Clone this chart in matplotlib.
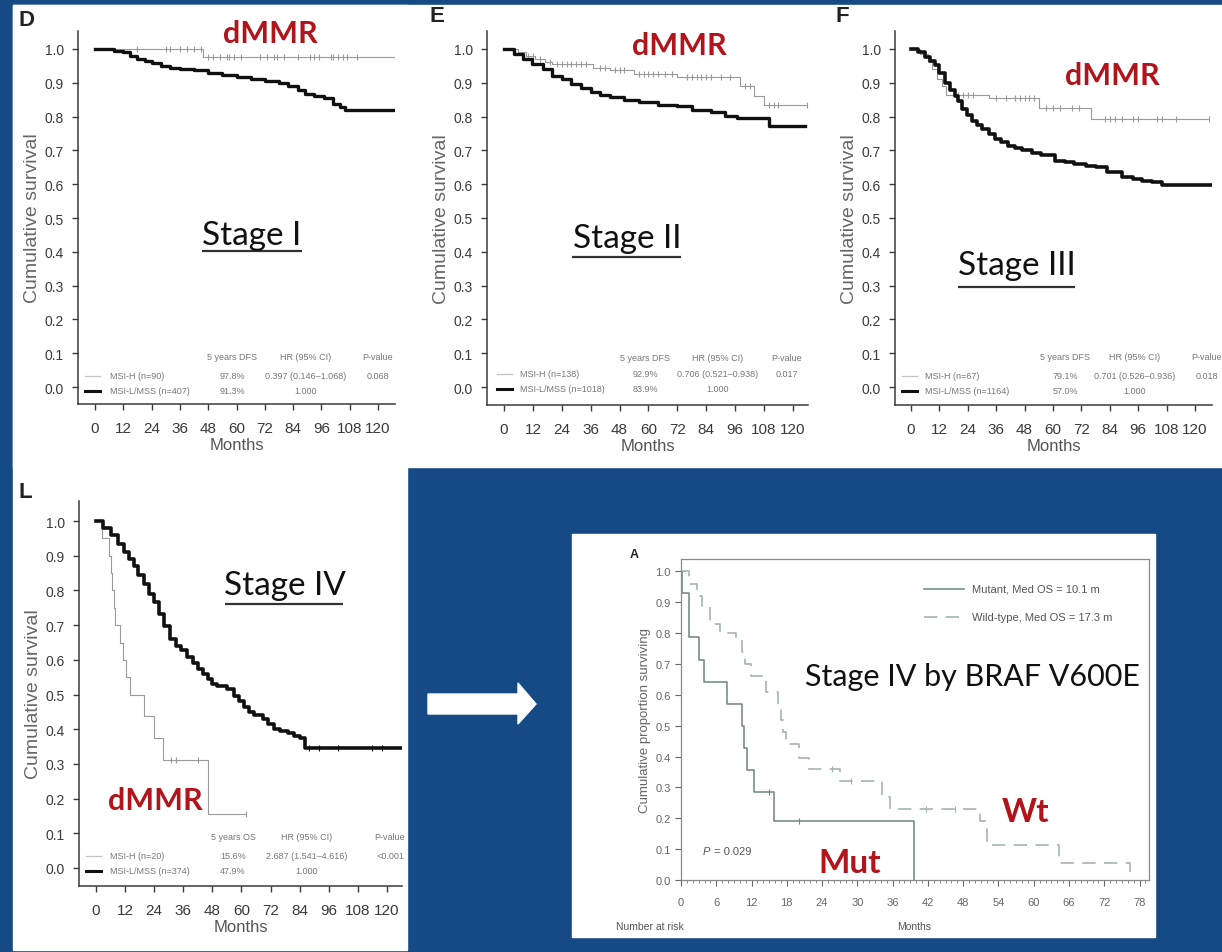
import numpy as np
import matplotlib.pyplot as plt
from matplotlib.patches import Rectangle, Polygon

plt.rcParams['font.family'] = ['Liberation Sans', 'DejaVu Sans']

W, H = 1222, 953
BLUE = '#164a85'
RED = '#b2141c'
INK = '#3a3a3a'
MSIH_GRAY = '#9a9a9a'
HEAD = ['Lato', 'DejaVu Sans']

month_ticks = [0, 12, 24, 36, 48, 60, 72, 84, 96, 108, 120]
surv_ticks = [0.0, 0.1, 0.2, 0.3, 0.4, 0.5, 0.6, 0.7, 0.8, 0.9, 1.0]

# Stage I
d_msih_t = [0, 46]
d_msih_s = [1.0, 0.975]
d_msih_end = 127
d_msih_cens = [18, 30, 32, 36, 39, 42, 45, 48, 50, 53, 56, 57, 59, 62, 70, 73, 76, 77,
               80, 86, 91, 93, 95, 100, 101, 103, 105, 107, 111]
d_mss_t = [0, 8, 12, 15, 18, 21, 24, 28, 32, 36, 42, 48, 54, 60, 66, 72, 78, 82, 86, 89,
           93, 97, 101, 104, 106]
d_mss_s = [1.0, 0.995, 0.99, 0.98, 0.97, 0.965, 0.958, 0.95, 0.945, 0.94, 0.937, 0.93, 0.922,
           0.917, 0.912, 0.906, 0.898, 0.89, 0.878, 0.867, 0.862, 0.855, 0.837, 0.828, 0.818]
d_mss_end = 127

# Stage II
e_msih_t = [0, 6, 9, 13, 17, 20, 37, 44, 54, 72, 98, 104, 108]
e_msih_s = [1.0, 0.99, 0.98, 0.97, 0.96, 0.955, 0.945, 0.938, 0.927, 0.916, 0.89, 0.862, 0.833]
e_msih_end = 126
e_msih_cens = [10, 12, 15, 19, 22, 24, 26, 28, 30, 32, 34, 40, 42, 46, 48, 50, 56, 58, 60, 62,
               64, 67, 70, 76, 78, 80, 82, 84, 86, 90, 94, 100, 102, 110, 112, 114, 126]
e_mss_t = [0, 4, 8, 11.5, 16, 20, 24, 28, 32, 36, 40, 44, 50, 56, 64, 72, 78, 86, 92, 97, 110]
e_mss_s = [1.0, 0.985, 0.97, 0.956, 0.94, 0.921, 0.91, 0.897, 0.884, 0.872, 0.864, 0.857,
           0.849, 0.842, 0.834, 0.83, 0.818, 0.812, 0.803, 0.797, 0.773]
e_mss_end = 125

# Stage III
f_msih_t = [0, 4, 7, 9, 11, 13, 15, 33, 54, 76]
f_msih_s = [1.0, 0.985, 0.96, 0.94, 0.91, 0.89, 0.865, 0.854, 0.826, 0.793]
f_msih_end = 126
f_msih_cens = [20, 22, 24, 26, 36, 40, 44, 46, 48, 50, 52, 57, 60, 63, 68, 71, 82, 84, 86, 89,
               94, 96, 104, 106, 112, 126]
f_mss_t = [0, 3, 6, 8, 10, 12, 14.5, 16.5, 18.7, 20, 21.5, 23.5, 25.7, 28, 30, 33, 35.6, 38,
           41, 44, 47, 51, 55, 61, 65, 69, 74, 78, 83, 89, 94, 97.5, 102, 106]
f_mss_s = [1.0, 0.99, 0.975, 0.963, 0.951, 0.93, 0.90, 0.88, 0.862, 0.845, 0.823, 0.805,
           0.788, 0.776, 0.764, 0.748, 0.734, 0.724, 0.714, 0.707, 0.70, 0.693, 0.685, 0.67,
           0.665, 0.66, 0.655, 0.65, 0.635, 0.62, 0.615, 0.61, 0.605, 0.598]
f_mss_end = 127

# Stage IV
l_msih_t = [0, 2.5, 5.5, 6.2, 6.8, 7.4, 8, 10, 11, 12.5, 14, 20, 24, 27.5, 46]
l_msih_s = [1.0, 0.95, 0.90, 0.85, 0.80, 0.75, 0.70, 0.65, 0.60, 0.55, 0.50, 0.4375, 0.375,
            0.3125, 0.156]
l_msih_end = 62
l_msih_cens = [31, 33, 42, 62]
l_mss_t = [0, 3, 6, 9, 11.5, 13.5, 15.5, 17.5, 19.7, 22, 24, 26, 28, 30.7, 33, 35, 37.5, 40,
           42, 44, 46, 48, 50, 54, 57, 59, 61, 63, 65, 69, 71, 73.3, 76, 79, 81.5, 84, 86.3]
l_mss_s = [1.0, 0.98, 0.959, 0.935, 0.91, 0.89, 0.872, 0.846, 0.819, 0.79, 0.766, 0.733,
           0.699, 0.66, 0.64, 0.627, 0.607, 0.59, 0.574, 0.56, 0.545, 0.53, 0.526, 0.516,
           0.497, 0.48, 0.463, 0.45, 0.44, 0.43, 0.415, 0.40, 0.395, 0.39, 0.38, 0.375, 0.347]
l_mss_end = 126
l_mss_cens = [88, 92, 100, 114, 118]

# Stage IV by BRAF V600E
braf_ticks = list(range(0, 79, 6))
mut_t = [0, 0.2, 1.3, 3.1, 3.9, 7.9, 10.3, 10.8, 11.3, 12.4, 15.8, 39.7]
mut_s = [1.0, 0.929, 0.786, 0.714, 0.643, 0.571, 0.5, 0.429, 0.357, 0.286, 0.19, 0.0]
mut_cens = [14.9, 20.1]
wt_t = [0, 1.4, 2.8, 3.5, 5.0, 6.6, 9.3, 10.3, 10.9, 11.9, 14.5, 16.5, 17.0, 17.4, 17.8, 20.0,
        21.7, 27.0, 34.2, 35.5, 50.9, 52.0, 64.3, 76.4]
wt_s = [1.0, 0.96, 0.92, 0.885, 0.83, 0.80, 0.78, 0.74, 0.70, 0.66, 0.61, 0.556, 0.52, 0.48,
        0.44, 0.395, 0.36, 0.32, 0.27, 0.23, 0.19, 0.115, 0.056, 0.0]
wt_cens = [25.7, 28.9, 41.7, 46.6]

# summary tables under each curve pair
heads_dfs = ['5 years DFS', 'HR (95% CI)', 'P-value']
heads_os = ['5 years OS', 'HR (95% CI)', 'P-value']
d_groups = ['MSI-H (n=90)', 'MSI-L/MSS (n=407)']
d_rates = ['97.8%', '91.3%']
d_hr = ['0.397 (0.146\u20131.068)', '1.000']
d_p = '0.068'
e_groups = ['MSI-H (n=138)', 'MSI-L/MSS (n=1018)']
e_rates = ['92.9%', '83.9%']
e_hr = ['0.706 (0.521\u20130.938)', '1.000']
e_p = '0.017'
f_groups = ['MSI-H (n=67)', 'MSI-L/MSS (n=1164)']
f_rates = ['79.1%', '57.0%']
f_hr = ['0.701 (0.526\u20130.936)', '1.000']
f_p = '0.018'
l_groups = ['MSI-H (n=20)', 'MSI-L/MSS (n=374)']
l_rates = ['15.6%', '47.9%']
l_hr = ['2.687 (1.541\u20134.616)', '1.000']
l_p = '<0.001'


fig = plt.figure(figsize=(W / 100, H / 100), dpi=100, facecolor=BLUE)


def px_axes(left, top, right, bottom):
    return fig.add_axes([left / W, 1 - bottom / H, (right - left) / W, (bottom - top) / H])


# background: white panels and the arrow
bg = px_axes(0, 0, W, H)
bg.set_xlim(0, W)
bg.set_ylim(H, 0)
bg.axis('off')
bg.set_zorder(-5)
bg.add_patch(Rectangle((13, 6), W - 13, 462, color='white'))
bg.add_patch(Rectangle((13, 6), 394, 945, color='white'))
bg.add_patch(Rectangle((572, 535), 583, 403, color='white'))
bg.add_patch(Polygon([(428, 695), (518, 695), (518, 684), (536, 705), (518, 725), (518, 715),
                      (428, 715)], closed=True, color='white'))


def km(ax, t, s, end, color, lw, cens=None, ms=4, **kw):
    ax.step(list(t) + [end], list(s) + [s[-1]], where='post', color=color, lw=lw, **kw)
    if cens:
        idx = np.searchsorted(t, cens, side='right') - 1
        ax.plot(cens, np.asarray(s)[idx], ls='none', marker='|', ms=ms, mew=0.8, color=color)


def surv_axes(rect, xlim, ylim):
    ax = px_axes(*rect)
    ax.set_facecolor('none')
    ax.set_xlim(*xlim)
    ax.set_ylim(*ylim)
    for sp in ('top', 'right'):
        ax.spines[sp].set_visible(False)
    for sp in ('left', 'bottom'):
        ax.spines[sp].set_color(INK)
        ax.spines[sp].set_linewidth(1.1)
    ax.set_xticks(month_ticks)
    ax.set_yticks(surv_ticks)
    ax.set_yticklabels([f'{v:.1f}' for v in surv_ticks])
    ax.tick_params(direction='out', length=4, width=1, colors=INK)
    ax.tick_params(axis='y', labelsize=10, pad=6)
    ax.tick_params(axis='x', labelsize=11, pad=8)
    for lab in ax.get_xticklabels():
        lab.set_family(['Liberation Sans Narrow', 'Liberation Sans'])
    ax.set_xlabel('Months', fontsize=12, color='#555', labelpad=2)
    ax.set_ylabel('Cumulative survival', fontsize=14, color='#666', labelpad=3)
    return ax


axD = surv_axes((78, 32, 395, 405), (-7.2, 127.2), (-0.050, 1.053))
km(axD, d_msih_t, d_msih_s, d_msih_end, MSIH_GRAY, 0.8, d_msih_cens)
km(axD, d_mss_t, d_mss_s, d_mss_end, '#111', 2.4)

axE = surv_axes((487, 32, 808, 406), (-7.06, 126.3), (-0.053, 1.053))
km(axE, e_msih_t, e_msih_s, e_msih_end, MSIH_GRAY, 0.8, e_msih_cens)
km(axE, e_mss_t, e_mss_s, e_mss_end, '#111', 2.4)

axF = surv_axes((895, 32, 1212, 406), (-6.76, 127.2), (-0.053, 1.053))
km(axF, f_msih_t, f_msih_s, f_msih_end, MSIH_GRAY, 0.8, f_msih_cens)
km(axF, f_mss_t, f_mss_s, f_mss_end, '#111', 2.6)

axL = surv_axes((79, 502, 402, 887), (-7.0, 126.2), (-0.052, 1.058))
km(axL, l_msih_t, l_msih_s, l_msih_end, MSIH_GRAY, 0.8, l_msih_cens)
km(axL, l_mss_t, l_mss_s, l_mss_end, '#111', 2.6, l_mss_cens)

# BRAF panel
axA = px_axes(681, 560, 1149, 881)
axA.set_facecolor('none')
axA.set_xlim(0, 79.6)
axA.set_ylim(0, 1.04)
for sp in axA.spines.values():
    sp.set_color('#8a8a8a')
    sp.set_linewidth(0.9)
axA.set_xticks(braf_ticks)
axA.set_xticks(range(0, 80), minor=True)
axA.set_yticks(surv_ticks)
axA.set_yticklabels([f'{v:.1f}' for v in surv_ticks])
axA.tick_params(direction='out', length=4, width=0.8, colors='#666', labelsize=8)
axA.tick_params(axis='x', pad=8)
axA.tick_params(which='minor', direction='out', length=2, width=0.6, colors='#777')
axA.set_ylabel('Cumulative proportion surviving', fontsize=9.5, color='#666', labelpad=3)
km(axA, mut_t, mut_s, mut_t[-1], '#6c8583', 1.1, mut_cens, ms=5)
km(axA, wt_t, wt_s, wt_t[-1], '#a3b5b3', 1.2, wt_cens, ms=5, dashes=(8, 5))

# overlay for panel letters, stage titles and summary tables
ov = px_axes(0, 0, W, H)
ov.set_xlim(0, W)
ov.set_ylim(H, 0)
ov.axis('off')
ov.set_zorder(10)

for letter, x, y, fs in [('D', 27, 21, 16), ('E', 437, 16, 16), ('F', 842, 17, 16),
                         ('L', 25, 493, 16), ('A', 634, 555, 9)]:
    ov.text(x, y, letter, fontsize=fs, fontweight='bold', color='#222', ha='center', va='center')

for x, y in [(270, 43), (679, 55), (1112, 85), (155, 810)]:
    ov.text(x, y, 'dMMR', fontsize=22, fontweight='bold', color=RED, ha='center',
            va='baseline', family=HEAD)

for label, x, y, ux0, ux1, uy in [('Stage I', 252, 245, 202, 302, 252),
                                  ('Stage II', 627, 248, 572, 681, 258),
                                  ('Stage III', 1017, 275, 958, 1075, 288),
                                  ('Stage IV', 285, 595, 225, 343, 605)]:
    ov.text(x, y, label, fontsize=24, color='#111', ha='center', va='baseline', family=HEAD)
    ov.plot([ux0, ux1], [uy, uy], color='#333', lw=1.6, solid_capstyle='butt')


def table(x_line, x_text, x_cols, y_head, y1, y2, heads, groups, rates, hrs, pval):
    kw = dict(fontsize=6.5, color='#777', va='center')
    for x, h in zip(x_cols, heads):
        ov.text(x, y_head, h, ha='center', **kw)
    ov.plot([x_line, x_line + 15], [y1, y1], color='#c4c4c4', lw=0.9)
    ov.plot([x_line, x_line + 15], [y2, y2], color='#111', lw=2.2)
    for y, g, r, hr in zip((y1, y2), groups, rates, hrs):
        ov.text(x_text, y, g, ha='left', **kw)
        ov.text(x_cols[0], y, r, ha='center', **kw)
        ov.text(x_cols[1], y, hr, ha='center', **kw)
    ov.text(x_cols[2], y1, pval, ha='center', **kw)


table(85, 110, (232, 306, 378), 358, 377, 392, heads_dfs, d_groups, d_rates, d_hr, d_p)
table(497, 520, (645, 718, 787), 359, 375, 390, heads_dfs, e_groups, e_rates, e_hr, e_p)
table(902, 925, (1065, 1135, 1207), 358, 377, 392, heads_dfs, f_groups, f_rates, f_hr, f_p)
table(86, 110, (233, 307, 390), 838, 857, 872, heads_os, l_groups, l_rates, l_hr, l_p)

# BRAF panel annotations
ov.plot([924, 964], [590, 590], color='#6c8583', lw=1.1)
ov.plot([924, 964], [618, 618], color='#a3b5b3', lw=1.2, dashes=(8, 5))
ov.text(972, 590, 'Mutant, Med OS = 10.1 m', fontsize=8, color='#555', va='center')
ov.text(972, 618, 'Wild-type, Med OS = 17.3 m', fontsize=8, color='#555', va='center')
ov.text(972, 686, 'Stage IV by BRAF V600E', fontsize=22, color='#111', ha='center',
        va='baseline', family=HEAD)
ov.text(850, 873, 'Mut', fontsize=24, fontweight='bold', color=RED, ha='center',
        va='baseline', family=HEAD)
ov.text(1026, 822, 'Wt', fontsize=24, fontweight='bold', color=RED, ha='center',
        va='baseline', family=HEAD)
ov.text(703, 852, 'P', fontsize=8, style='italic', color='#555', va='center')
ov.text(711, 852, ' = 0.029', fontsize=8, color='#555', va='center')
ov.text(650, 927, 'Number at risk', fontsize=7.5, color='#555', ha='center', va='center')
ov.text(914, 927, 'Months', fontsize=7.5, color='#555', ha='center', va='center')

fig.savefig('out.png', dpi=100, facecolor=BLUE)
